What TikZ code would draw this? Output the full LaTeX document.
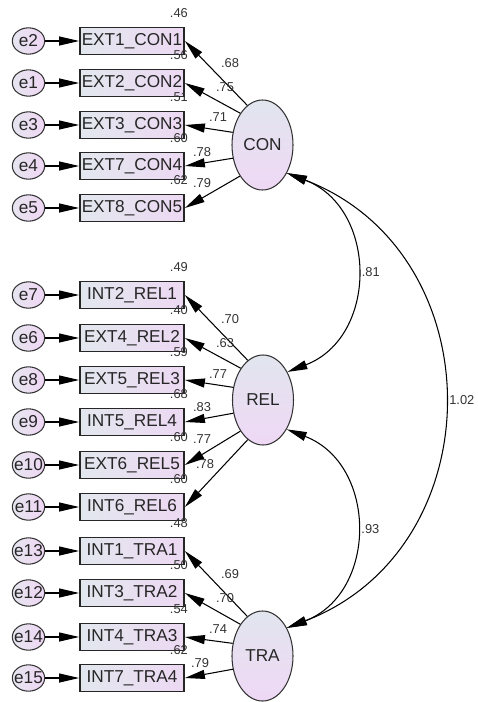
\documentclass[tikz,border=0pt]{standalone}
\usepackage{fontspec}
\setmainfont{Liberation Sans}
\usetikzlibrary{shapes.geometric,arrows.meta}
\definecolor{boxl}{RGB}{226,231,238}
\definecolor{boxr}{RGB}{237,217,243}
\definecolor{errl}{RGB}{230,229,239}
\definecolor{errr}{RGB}{239,214,244}
\definecolor{latt}{RGB}{225,229,238}
\definecolor{latb}{RGB}{239,216,245}

\begin{document}
\begin{tikzpicture}[x=0.03cm, y=-0.03cm, font=\fontsize{14.7}{16}\selectfont, text=black!85,
  >={Triangle[length=6mm, width=2.7mm]}] % координаты в пикселях, ось y вниз
\tikzstyle{mybox} = [draw=black!85, line width=1.5pt, left color=boxl, right color=boxr, minimum width=3.12cm, minimum height=0.81cm, inner sep=0pt] % наблюдаемая переменная
\tikzstyle{myerr} = [ellipse, draw=black!80, line width=0.9pt, left color=errl, right color=errr, minimum width=0.97cm, minimum height=0.79cm, inner sep=0pt] % ошибка
\tikzstyle{mylat} = [ellipse, draw=black!80, line width=0.9pt, top color=latt, bottom color=latb, minimum width=1.83cm, minimum height=2.7cm, inner sep=0pt] % латентный фактор
\tikzstyle{mylbl} = [font=\fontsize{11}{12}\selectfont, text=black!80, inner sep=1pt] % коэффициенты
\tikzstyle{myr2} = [mylbl, anchor=center, xshift=-0.18cm, yshift=0.4cm] % R^2 над блоком
\tikzstyle{myarr} = [->, line width=0.9pt]

\useasboundingbox (0,0) rectangle (477,702);

% факторы
\node[mylat] (con) at (262.5,145) {CON};
\node[mylat] (rel) at (263,400) {REL};
\node[mylat] (tra) at (262.5,656) {TRA};

% CON
\node[mybox, label={[myr2]north east:.46}] (con1) at (132,41) {EXT1\_CON1};
\node[mybox, label={[myr2]north east:.56}] (con2) at (132,83) {EXT2\_CON2};
\node[mybox, label={[myr2]north east:.51}] (con3) at (132,125) {EXT3\_CON3};
\node[mybox, label={[myr2]north east:.60}] (con4) at (132,166) {EXT7\_CON4};
\node[mybox, label={[myr2]north east:.62}] (con5) at (132,208) {EXT8\_CON5};
\node[myerr, label=center:e2] (e2) at (28.5,41) {};
\node[myerr, label=center:e1] (e1) at (28.5,83) {};
\node[myerr, label=center:e3] (e3) at (28.5,125) {};
\node[myerr, label=center:e4] (e4) at (28.5,166) {};
\node[myerr, label=center:e5] (e5) at (28.5,208) {};

% REL
\node[mybox, label={[myr2]north east:.49}] (rel1) at (132,295) {INT2\_REL1};
\node[mybox, label={[myr2]north east:.40}] (rel2) at (132,338) {EXT4\_REL2};
\node[mybox, label={[myr2]north east:.59}] (rel3) at (132,380) {EXT5\_REL3};
\node[mybox, label={[myr2]north east:.68}] (rel4) at (132,422) {INT5\_REL4};
\node[mybox, label={[myr2]north east:.60}] (rel5) at (132,465) {EXT6\_REL5};
\node[mybox, label={[myr2]north east:.60}] (rel6) at (132,507) {INT6\_REL6};
\node[myerr, label=center:e7] (e7) at (28.5,295) {};
\node[myerr, label=center:e6] (e6) at (28.5,338) {};
\node[myerr, label=center:e8] (e8) at (28.5,380) {};
\node[myerr, label=center:e9] (e9) at (28.5,422) {};
\node[myerr, label=center:e10] (e10) at (28.5,465) {};
\node[myerr, label=center:e11] (e11) at (28.5,507) {};

% TRA
\node[mybox, label={[myr2]north east:.48}] (tra1) at (132,551) {INT1\_TRA1};
\node[mybox, label={[myr2]north east:.50}] (tra2) at (132,593) {INT3\_TRA2};
\node[mybox, label={[myr2]north east:.54}] (tra3) at (132,637) {INT4\_TRA3};
\node[mybox, label={[myr2]north east:.62}] (tra4) at (132,678) {INT7\_TRA4};
\node[myerr, label=center:e13] (e13) at (28.5,551) {};
\node[myerr, label=center:e12] (e12) at (28.5,593) {};
\node[myerr, label=center:e14] (e14) at (28.5,637) {};
\node[myerr, label=center:e15] (e15) at (28.5,678) {};

% ошибки -> индикаторы
\draw[myarr] (e2) -- (con1);  \draw[myarr] (e1) -- (con2);
\draw[myarr] (e3) -- (con3);  \draw[myarr] (e4) -- (con4);
\draw[myarr] (e5) -- (con5);
\draw[myarr] (e7) -- (rel1);  \draw[myarr] (e6) -- (rel2);
\draw[myarr] (e8) -- (rel3);  \draw[myarr] (e9) -- (rel4);
\draw[myarr] (e10) -- (rel5); \draw[myarr] (e11) -- (rel6);
\draw[myarr] (e13) -- (tra1); \draw[myarr] (e12) -- (tra2);
\draw[myarr] (e14) -- (tra3); \draw[myarr] (e15) -- (tra4);

% нагрузки
\draw[myarr] (con.111) -- (con1.east) node[mylbl] (w1) at (230,63) {.68};
\draw[myarr] (con.125) -- (con2.east) node[mylbl] (w2) at (225,87) {.75};
\draw[myarr] (con.157) -- (con3.east) node[mylbl] (w3) at (218,117) {.71};
\draw[myarr] (con.204) -- (con4.east) node[mylbl] (w4) at (202,152) {.78};
\draw[myarr] (con.234) -- (con5.east) node[mylbl] (w5) at (202,183) {.79};

\draw[myarr] (rel.111) -- (rel1.east) node[mylbl] (w6) at (230,319) {.70};
\draw[myarr] (rel.125) -- (rel2.east) node[mylbl] (w7) at (225,343) {.63};
\draw[myarr] (rel.157) -- (rel3.east) node[mylbl] (w8) at (218,374) {.77};
\draw[myarr] (rel.204) -- (rel4.east) node[mylbl] (w9) at (202,407) {.83};
\draw[myarr] (rel.234) -- (rel5.east) node[mylbl] (w10) at (202,439) {.77};
\draw[myarr] (rel.249) -- (rel6.east) node[mylbl] (w11) at (205,464) {.78};

\draw[myarr] (tra.111) -- (tra1.east) node[mylbl] (w12) at (230,574) {.69};
\draw[myarr] (tra.125) -- (tra2.east) node[mylbl] (w13) at (225,598) {.70};
\draw[myarr] (tra.157) -- (tra3.east) node[mylbl] (w14) at (218,629) {.74};
\draw[myarr] (tra.204) -- (tra4.east) node[mylbl] (w15) at (200,663) {.79};

% ковариации
\draw[<->, line width=0.9pt] (con.-49) .. controls +(91,35) and +(91,-35) .. (rel.49)
  node[mylbl, midway, right, inner sep=5pt] (c1) {.81};
\draw[<->, line width=0.9pt] (con.-49) .. controls +(208,80) and +(208,-80) .. (tra.49)
  node[mylbl, midway, right, inner sep=5pt] (c2) {1.02};
\draw[<->, line width=0.9pt] (rel.-51) .. controls +(91,35) and +(91,-35) .. (tra.49)
  node[mylbl, midway, right, inner sep=5pt] (c3) {.93};
\end{tikzpicture}
\end{document}
